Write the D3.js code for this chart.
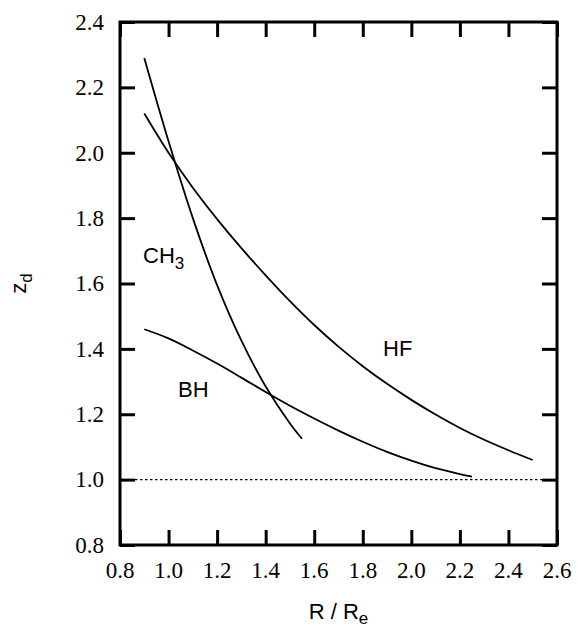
<!DOCTYPE html>
<html>
<head>
<meta charset="utf-8">
<script src="https://cdn.jsdelivr.net/npm/d3@7"></script>
<style>
  body { margin: 0; background: #fff; }
  .lab { font-family: "Liberation Sans", Arial, sans-serif; font-size: 22px; fill: #000; }
  .tk { font-family: "Liberation Serif", "Times New Roman", serif; font-size: 23px; fill: #000; }
</style>
</head>
<body>
<div class="chart"></div>
<script>
// curves: R / Re vs z_d
const hfR  = [0.9, 1.0, 1.1, 1.2, 1.3, 1.4, 1.5, 1.6, 1.7, 1.8, 1.9, 2.0, 2.1, 2.2, 2.3, 2.4, 2.5]
const hfZ  = [2.12, 2.00, 1.893, 1.797, 1.708, 1.625, 1.546, 1.473, 1.407, 1.347, 1.293, 1.244, 1.199, 1.158, 1.122, 1.09, 1.06]
const bhR  = [0.9, 1.0, 1.1, 1.2, 1.3, 1.4, 1.5, 1.6, 1.7, 1.8, 1.9, 2.0, 2.1, 2.2, 2.25]
const bhZ  = [1.46, 1.432, 1.395, 1.355, 1.312, 1.268, 1.226, 1.187, 1.150, 1.116, 1.085, 1.058, 1.035, 1.017, 1.009]
const ch3R = [0.9, 1.0, 1.1, 1.2, 1.3, 1.4, 1.5, 1.55]
const ch3Z = [2.29, 2.035, 1.80, 1.595, 1.425, 1.285, 1.172, 1.125]
const refZ = 1.0
const xTicks = [0.8, 1.0, 1.2, 1.4, 1.6, 1.8, 2.0, 2.2, 2.4, 2.6]
const yTicks = [0.8, 1.0, 1.2, 1.4, 1.6, 1.8, 2.0, 2.2, 2.4]

const W = 577, H = 627
const margin = {top: 22, right: 20, bottom: 82, left: 120}
const width = W - margin.left - margin.right,
      height = H - margin.top - margin.bottom

const svg = d3.select('.chart').append('svg')
    .attr('width', W)
    .attr('height', H)
  .append('g')
    .attr('transform', 'translate(' + margin.left + ',' + margin.top + ')')

const x = d3.scaleLinear().domain([0.8, 2.6]).range([0, width])
const y = d3.scaleLinear().domain([0.8, 2.4]).range([height, 0])

const fmt = d3.format('.1f')

// tick marks pointing inward on all four sides (labels drawn below)
function styleAxis(g){
  g.select('.domain').remove()
  g.selectAll('.tick text').remove()
  g.selectAll('.tick line').attr('stroke', '#000').attr('stroke-width', 3)
}
svg.append('g').attr('transform', 'translate(0,' + height + ')')
  .call(d3.axisBottom(x).tickValues(xTicks).tickSizeInner(-15).tickSizeOuter(0))
  .call(styleAxis)
svg.append('g')
  .call(d3.axisTop(x).tickValues(xTicks).tickSizeInner(-15).tickSizeOuter(0))
  .call(styleAxis)
svg.append('g')
  .call(d3.axisLeft(y).tickValues(yTicks).tickSizeInner(-15).tickSizeOuter(0))
  .call(styleAxis)
svg.append('g').attr('transform', 'translate(' + width + ',0)')
  .call(d3.axisRight(y).tickValues(yTicks).tickSizeInner(-15).tickSizeOuter(0))
  .call(styleAxis)

// tick labels
svg.append('g').selectAll('text')
  .data(xTicks)
  .join('text')
    .attr('class', 'tk')
    .attr('x', d => x(d))
    .attr('y', height + 33)
    .attr('text-anchor', 'middle')
    .text(fmt)
svg.append('g').selectAll('text')
  .data(yTicks)
  .join('text')
    .attr('class', 'tk')
    .attr('x', -16)
    .attr('y', d => y(d))
    .attr('dy', '0.34em')
    .attr('text-anchor', 'end')
    .text(fmt)

// frame
svg.append('rect')
  .attr('x', 0).attr('y', 0)
  .attr('width', width).attr('height', height)
  .attr('fill', 'none').attr('stroke', '#000').attr('stroke-width', 3)

// reference line at z = 1
svg.append('line')
  .attr('x1', x(0.8)).attr('x2', x(2.6))
  .attr('y1', y(refZ)).attr('y2', y(refZ))
  .attr('stroke', '#000').attr('stroke-width', 1.3)
  .attr('stroke-dasharray', '2.5,2.5')

const line = d3.line()
  .x(d => x(d[0]))
  .y(d => y(d[1]))
  .curve(d3.curveCatmullRom)

const series = [[hfR, hfZ], [bhR, bhZ], [ch3R, ch3Z]]
series.forEach(s => {
  svg.append('path')
    .datum(d3.zip(s[0], s[1]))
    .attr('d', line)
    .attr('fill', 'none')
    .attr('stroke', '#000')
    .attr('stroke-width', 1.8)
})

// curve labels
const ch3 = svg.append('text').attr('class', 'lab').attr('x', 23).attr('y', 241)
ch3.append('tspan').text('CH')
ch3.append('tspan').attr('dy', 6).attr('font-size', 17).text('3')
svg.append('text').attr('class', 'lab').attr('x', 58).attr('y', 375).text('BH')
svg.append('text').attr('class', 'lab').attr('x', 263).attr('y', 334).text('HF')

// axis titles
const xt = svg.append('text').attr('class', 'lab')
  .attr('x', width / 2).attr('y', height + 74).attr('text-anchor', 'middle')
xt.append('tspan').text('R / R')
xt.append('tspan').attr('dy', 5).attr('font-size', 17).text('e')

const yt = svg.append('text').attr('class', 'lab')
  .attr('transform', 'translate(' + (26 - margin.left) + ',' + (height / 2) + ') rotate(-90)')
  .attr('text-anchor', 'middle')
yt.append('tspan').text('z')
yt.append('tspan').attr('dy', 6).attr('font-size', 17).text('d')
</script>
</body>
</html>
